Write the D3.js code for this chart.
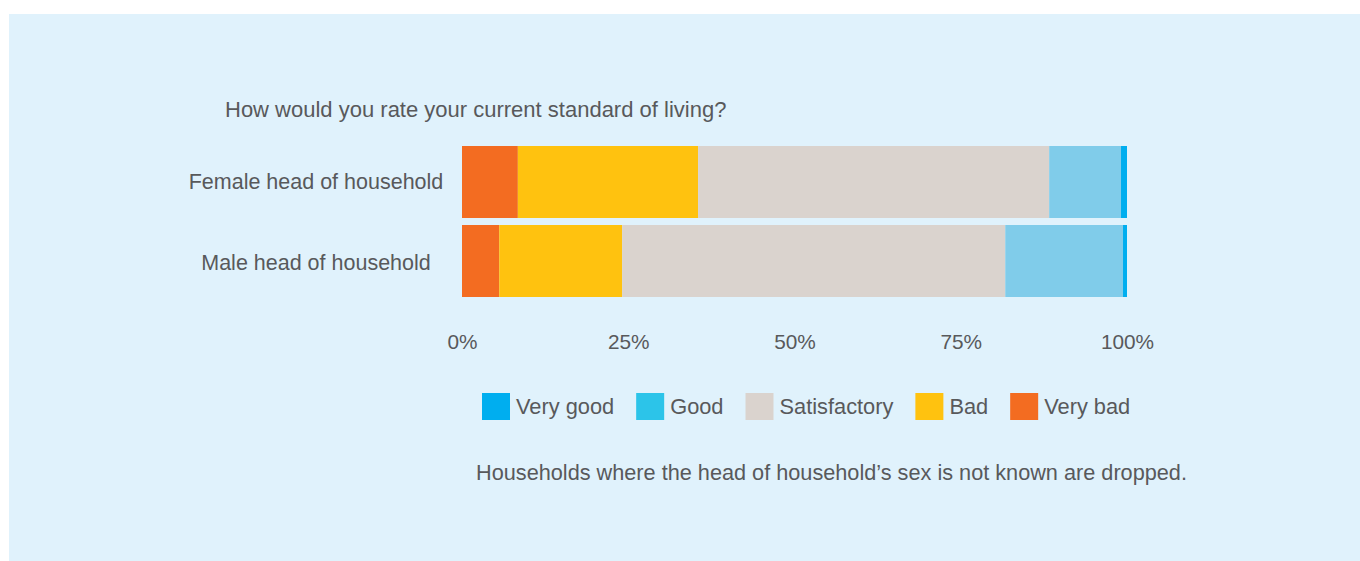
<!DOCTYPE html>
<html>
<head>
<meta charset="utf-8">
<script src="https://cdn.jsdelivr.net/npm/d3@7"></script>
<style>
  html, body { margin: 0; padding: 0; background: #ffffff; }
  svg { display: block; }
  text { font-family: "Liberation Sans", Arial, sans-serif; fill: #58595b; }
</style>
</head>
<body>
<svg id="chart" width="1360" height="561"></svg>
<script>
// Survey answers, share of households (%) per response, per head-of-household sex
const groups = ["Female head of household", "Male head of household"];
const responses = ["Very bad", "Bad", "Satisfactory", "Good", "Very good"];
const femaleShares = [8.4, 27.1, 52.8, 10.8, 0.9];
const maleShares = [5.6, 18.5, 57.6, 17.7, 0.6];
const tickValues = [0, 25, 50, 75, 100];
const legendOrder = ["Very good", "Good", "Satisfactory", "Bad", "Very bad"];

const title = "How would you rate your current standard of living?";
const note = "Households where the head of household\u2019s sex is not known are dropped.";

// Fill colours for bars and for legend swatches
const barColor = {
  "Very bad": "#f36c21",
  "Bad": "#ffc20f",
  "Satisfactory": "#dad3ce",
  "Good": "#80ccea",
  "Very good": "#00aeef"
};
const swatchColor = {
  "Very bad": "#f36c21",
  "Bad": "#ffc20f",
  "Satisfactory": "#dad3ce",
  "Good": "#2cc4e9",
  "Very good": "#00aeef"
};

const table = groups.map((g, i) => {
  const row = { group: g };
  const vals = i === 0 ? femaleShares : maleShares;
  responses.forEach((r, j) => row[r] = vals[j]);
  return row;
});

const svg = d3.select("#chart");

// panel background
svg.append("rect")
  .attr("x", 9).attr("y", 14)
  .attr("width", 1351).attr("height", 547)
  .attr("fill", "#e0f2fc");

const x = d3.scaleLinear().domain([0, 100]).range([462, 1127]);
const y = d3.scaleBand().domain(groups).range([146, 297]).paddingInner(0.0886).paddingOuter(0);

const stacked = d3.stack().keys(responses)(table);

svg.append("g")
  .selectAll("g")
  .data(stacked)
  .join("g")
  .attr("fill", d => barColor[d.key])
  .selectAll("rect")
  .data(d => d)
  .join("rect")
  .attr("x", d => x(d[0]))
  .attr("y", d => y(d.data.group))
  .attr("width", d => x(d[1]) - x(d[0]))
  .attr("height", y.bandwidth());

// title
svg.append("text")
  .attr("x", 225).attr("y", 117)
  .attr("font-size", 22)
  .text(title);

// category labels
svg.append("g")
  .selectAll("text")
  .data(groups)
  .join("text")
  .attr("x", 316)
  .attr("y", (d, i) => y(d) + y.bandwidth() / 2 + (i === 0 ? -1 : 1.5))
  .attr("dy", "0.35em")
  .attr("text-anchor", "middle")
  .attr("font-size", 21.5)
  .text(d => d);

// x axis: labels only
const axis = d3.axisBottom(x)
  .tickValues(tickValues)
  .tickFormat(d => d + "%")
  .tickSize(0)
  .tickPadding(37);

const ax = svg.append("g")
  .attr("transform", "translate(0,297)")
  .call(axis);
ax.select(".domain").remove();
ax.selectAll("text")
  .attr("font-size", 20.8)
  .attr("font-family", "Liberation Sans, Arial, sans-serif")
  .attr("fill", "#58595b");

// legend
const legend = svg.append("g").attr("transform", "translate(482,393)");
let lx = 0;
legendOrder.forEach(k => {
  const item = legend.append("g").attr("transform", `translate(${lx},0)`);
  item.append("rect")
    .attr("width", 28).attr("height", 27)
    .attr("fill", swatchColor[k]);
  const t = item.append("text")
    .attr("x", 34).attr("y", 20.5)
    .attr("font-size", 21.8)
    .text(k);
  lx += 34 + t.node().getComputedTextLength() + 22;
});

// footnote
svg.append("text")
  .attr("x", 476).attr("y", 480)
  .attr("font-size", 21.7)
  .text(note);
</script>
</body>
</html>
